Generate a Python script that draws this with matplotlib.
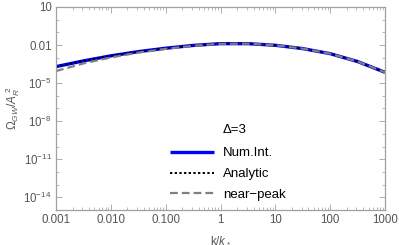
import matplotlib
matplotlib.use("Agg")
import matplotlib.pyplot as plt
import numpy as np
from matplotlib.ticker import LogLocator, FixedLocator, NullFormatter

plt.rcParams["font.family"] = ["Liberation Sans", "DejaVu Sans"]
plt.rcParams["mathtext.fontset"] = "custom"
plt.rcParams["mathtext.rm"] = "Liberation Sans"
plt.rcParams["mathtext.it"] = "Liberation Sans:italic"

# k / k_* sample points (half-decade steps)
k_vals = [1e-3, 10**-2.5, 1e-2, 10**-1.5, 1e-1, 10**-0.5, 1.0,
          10**0.5, 1e1, 10**1.5, 1e2, 10**2.5, 1e3]
# log10 of Omega_GW / A_R^2
log_num_int = [-3.70, -3.25, -2.85, -2.52, -2.25, -2.03, -1.89,
               -1.89, -2.02, -2.28, -2.68, -3.30, -4.15]
log_analytic = [-3.70, -3.25, -2.85, -2.52, -2.25, -2.03, -1.89,
                -1.89, -2.02, -2.28, -2.68, -3.30, -4.15]
log_near_peak = [-4.05, -3.45, -2.98, -2.60, -2.30, -2.06, -1.90,
                 -1.89, -2.02, -2.28, -2.68, -3.30, -4.15]

x_ticks = [1e-3, 1e-2, 1e-1, 1, 10, 100, 1000]
x_labels = ["0.001", "0.010", "0.100", "1", "10", "100", "1000"]
y_ticks = [1e-14, 1e-11, 1e-8, 1e-5, 1e-2, 1e1]
y_labels = [r"$10^{-14}$", r"$10^{-11}$", r"$10^{-8}$", r"$10^{-5}$", "0.01", "10"]

FRAME = "#a0a0a0"
TEXT = "#555555"

fig = plt.figure(figsize=(3.99, 2.45), dpi=100)
ax = fig.add_axes([0.1404, 0.1429, 0.8246, 0.8286])

k = np.array(k_vals)
ax.plot(k, 10 ** np.array(log_num_int), color="#0000ff", lw=2.4,
        label="Num.Int.", solid_capstyle="butt")
ax.plot(k, 10 ** np.array(log_analytic), color="black", lw=1.4,
        linestyle=(0, (1.2, 1.2)), label="Analytic")
ax.plot(k, 10 ** np.array(log_near_peak), color="#808080", lw=1.6,
        linestyle=(0, (3.5, 1.8)), label="near\u2212peak")

ax.set_xscale("log")
ax.set_yscale("log")
ax.set_xlim(1e-3, 1e3)
ax.set_ylim(1e-15, 1e1)

ax.xaxis.set_major_locator(FixedLocator(x_ticks))
ax.set_xticklabels(x_labels)
ax.xaxis.set_minor_locator(LogLocator(base=10, subs=np.arange(2, 10)))
ax.xaxis.set_minor_formatter(NullFormatter())
ax.yaxis.set_major_locator(FixedLocator(y_ticks))
ax.set_yticklabels(y_labels)
ax.yaxis.set_minor_locator(FixedLocator([10.0 ** e for e in range(-15, 2)]))
ax.yaxis.set_minor_formatter(NullFormatter())

ax.tick_params(which="both", direction="in", top=True, right=True,
               color=FRAME, labelcolor=TEXT, labelsize=8.3, pad=3)
ax.tick_params(which="major", length=4, width=0.6)
ax.tick_params(which="minor", length=2, width=0.5)
for s in ax.spines.values():
    s.set_color(FRAME)
    s.set_linewidth(0.9)

ax.set_xlabel(r"k/$k_*$", color=TEXT, fontsize=8.3, labelpad=6)
ax.set_ylabel(r"$\Omega_{GW}/A_R^{\ 2}$", color=TEXT, fontsize=8.5, labelpad=1)

ax.text(0.505, 0.394, "\u0394=3", transform=ax.transAxes, fontsize=9.5,
        va="center", ha="left", color="black")
leg = ax.legend(loc="center left", bbox_to_anchor=(0.347, 0.177),
                frameon=False, fontsize=9.5, handlelength=3.3,
                handletextpad=0.7, labelspacing=0.65, borderpad=0,
                borderaxespad=0)

fig.savefig("out.png", dpi=100)
